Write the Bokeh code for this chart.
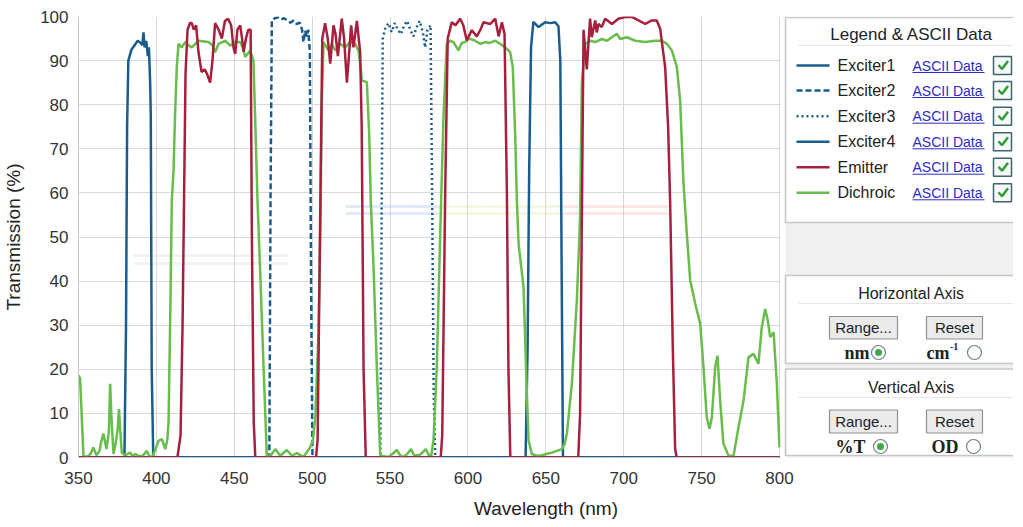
from bokeh.plotting import figure
from bokeh.models import Range1d, FixedTicker
from bokeh.embed import file_html
from bokeh.resources import INLINE
from bokeh.core.properties import value

# ---------------- data ----------------
x_ticks = [350, 400, 450, 500, 550, 600, 650, 700, 750, 800]
y_ticks = [0, 10, 20, 30, 40, 50, 60, 70, 80, 90, 100]

series_names = ["Exciter1", "Exciter2", "Exciter3", "Exciter4", "Emitter", "Dichroic"]

ex1_nm = [350, 379.5, 380.5, 381.2, 382, 384, 386, 388, 390, 391, 391.7, 392.5, 393.5, 394.5,
          395.2, 396, 396.4, 397, 398, 800]
ex1_T = [0, 0, 30, 75, 90, 92.5, 93.5, 94.5, 94, 93.5, 96.4, 93, 94.5, 91, 93, 85, 77.5, 20, 0, 0]

ex2_nm = [350, 472.5, 473.3, 474.1, 476, 478, 480, 482, 484, 486, 488, 490, 492, 493.5, 494.4,
          495.5, 496.5, 497.5, 498.5, 499.3, 500.2, 800]
ex2_T = [0, 0, 60, 99.1, 99.6, 99.8, 99.3, 99.6, 99.1, 98.6, 99.1, 98.3, 98.6, 97, 94.2, 96.8,
         95.5, 97, 92, 40, 0, 0]

ex3_nm = [350, 543.8, 544.5, 545.3, 547, 549, 551, 553, 555, 557, 559, 561, 563, 565, 567, 569,
          571, 572.5, 574, 576, 577, 578, 579, 800]
ex3_T = [0, 0, 50, 95, 97.5, 98.5, 96.5, 98.5, 97, 96, 98, 99, 97, 95.5, 97.5, 99, 96.5, 93,
         97, 98, 60, 15, 0, 0]

ex4_nm = [350, 637, 638.3, 639.3, 640.5, 642, 645.3, 649.6, 653, 656, 658.1, 659.3, 660.2, 661, 800]
ex4_T = [0, 0, 25, 65, 93, 98.8, 97.6, 98.7, 98.5, 98.7, 97.8, 90, 40, 0, 0]

em_nm = [350,
         413.5, 415.5, 416.8, 417.8, 418.7, 420, 421.5, 422.7, 424, 425.5, 427, 429, 431, 432.5,
         434.5, 436, 437.7, 440, 442, 444, 446, 448, 449.5, 450.6, 452, 453.8, 455, 456, 457.5,
         459, 460.5, 461.3, 462.5, 463.5,
         502.5, 503.5, 505, 506.5, 508.3, 510, 511.6, 513.7, 515, 516.5, 519, 520.5, 522.3, 524,
         525, 526.5, 528.7, 530.8, 531.8, 533, 534.4,
         582.5, 583.5, 585.4, 587, 589.6, 592, 595, 597, 599.2, 602.5, 605.7, 608, 610, 614.3,
         617.5, 619.7, 621.8, 623.5, 625, 626, 627.2,
         670.8, 672, 673, 674.2, 676.3, 678.4, 679.5, 681.7, 682.7, 683.8, 685.9, 688.1, 692.4,
         696.6, 700.9, 705.2, 709.5, 713.8, 718, 721.2, 723.4, 726.6, 728.5, 729.8, 731.5, 733,
         734, 800]
em_T = [0,
        0, 5, 30, 60, 87, 97, 98.5, 98.5, 97, 98, 92, 87.4, 88, 87,
        85, 90, 98.5, 97, 95, 99, 99.5, 98, 93, 91.5, 97, 98, 95, 92, 95,
        97, 97, 50, 8, 0,
        0, 4, 50, 95, 98.5, 95, 89.3, 98, 96, 91, 99.5, 95, 85, 93,
        98, 93, 99, 92, 75, 20, 0,
        0, 5, 60, 95, 98.7, 98, 99.5, 98, 94.6, 96.9, 95.5, 97, 98.7, 98.3,
        99.5, 95.5, 98.7, 96, 60, 20, 0,
        0, 10, 50, 97, 88, 99.5, 95.3, 99.1, 96.4, 98.3, 97.6, 99.5, 98.3,
        99.5, 99.9, 99.9, 99.1, 98.3, 99.1, 99.1, 97.2, 88.5, 75, 58, 25, 2,
        0, 0]

di_nm = [350, 351, 352, 353.2, 356, 358, 359.5, 361.5, 363.5, 364.5, 366, 368, 369.5, 370.3,
         371.3, 372.5, 374, 375, 376, 377, 377.8, 380, 381.5, 383, 385, 386.5, 388.5, 391, 393.8,
         395.5, 397, 399, 401.4, 403.5, 405.7, 407, 407.8, 408.8, 409.9, 411, 412, 413.1, 414.2,
         416.3, 418.5, 420.5, 422.7, 427, 433.4, 436, 437.7, 439.9, 444.2, 447.4, 450.6, 453.8,
         455.5, 457, 460.2, 462.3, 463.4, 464.9, 466.6, 468.8, 470.9, 473.5, 476.3, 479.5, 483.7,
         487, 490.2, 494.4, 498.7, 500.5, 502, 504, 505.2, 506.2, 507.3, 510.5, 512.6, 514.8, 518,
         521.2, 524.4, 527.6, 529.7, 531.2, 531.9, 535.1, 536.6, 537.6, 539.4, 541.5, 543.7, 546,
         549, 551.5, 554.3, 556.5, 558.6, 561, 563.5, 565.4, 568.6, 570.5, 572.9, 575, 576.5,
         577.9, 580, 582.2, 584.3, 586.4, 588.6, 590.7, 593.9, 596, 598.2, 601, 604.6, 608, 611,
         614, 617.5, 620.7, 623.9, 627.1, 628.8, 630.3, 631.4, 632.5, 635.7, 637.4, 638.9, 641,
         644, 647.4, 650.5, 653.8, 657, 660.3, 662, 663.5, 666.7, 669.9, 672, 673.1, 675.3, 678.5,
         681.7, 686, 689.2, 692.4, 695.6, 697.7, 702, 707.4, 713.8, 720.2, 724.5, 727.7, 730.9,
         734.1, 736.2, 738.4, 740.5, 742.7, 745.9, 749.1, 751.2, 753.3, 755.1, 756.6, 758.7,
         760.2, 761.9, 764, 767.3, 770.5, 773.7, 776.9, 780.1, 783.3, 786.5, 788.6, 790.8, 792.5,
         794, 796.2, 798.3, 800]
di_T = [18.6, 18, 10, 0.3, 0.2, 1, 2.3, 0.5, 1.5, 3.5, 5.4, 1.9, 6, 16.7,
        8, 0.8, 3.5, 6, 11, 5, 1.1, 0.5, 0.8, 1.1, 0.3, 0.8, 0.4, 0.3, 1.5,
        0.3, 0, 1.5, 3.8, 4.2, 1.9, 4, 8, 30, 58.3, 65, 78, 88.5, 93.8,
        93, 94.2, 93.5, 93, 94.5, 94.2, 93.5, 91.9, 93.8, 94.5, 93.4, 94.2, 94.2,
        93, 90.8, 92.3, 90, 77, 58.3, 42.4, 20.5, 0.3, 0.5, 1.9, 0.4, 1.7,
        0.4, 1, 0.1, 2.3, 4, 9.1, 28, 50.7, 81, 94.2, 92.3, 93.8, 92.3, 93.8,
        93, 94.2, 93.8, 92.3, 88, 85.5, 85.1, 73.4, 58.3, 43.2, 20.5, 0.4, 0.3,
        0.1, 0.8, 1.7, 0.5, 0.1, 0.8, 1.9, 0.5, 0.5, 1, 1.9, 0.5, 0.5,
        3.9, 20.5, 50.7, 77.2, 93.8, 94.5, 94.2, 92.3, 94, 94.2, 95, 94.5, 93.8, 94.2,
        94, 94.5, 93.8, 93, 91.9, 88.5, 73.4, 58.3, 48.5, 38.6, 19, 3.9, 0.8,
        0.4, 0.5, 0.8, 1.1, 1.5, 1.9, 3, 5.4, 16.7, 35.6, 54.5, 84.7, 93.8, 94.5,
        94.2, 94.9, 94.5, 95.3, 96.1, 94.9, 95.3, 94.5, 94.2, 94.5, 94.5, 93.8, 92.3,
        88.5, 81, 62, 50.7, 40.1, 34.9, 30.3, 20.5, 9.1, 6.5, 9.1, 20.5,
        23.1, 12.9, 3.1, 0.4, 0.4, 6.9, 12.9, 22.7, 23.5, 21.2, 29.5, 33.7, 31,
        27.3, 28.4, 16.7, 2.3]

BLUE = "#1b5c8e"
RED = "#a6203e"
GREEN = "#68bd4c"
FONT = "Liberation Sans"

# chart frame: 350..800 nm over 701 px; frame extended to the right to host the side panels
NM_PER_PX = 450 / 701
X_END = 350 + 935 * NM_PER_PX


def X(px):
    return 350 + (px - 80) * NM_PER_PX


def Y(py):
    return (457 - py) * 100 / 441


p = figure(frame_width=935, frame_height=441, x_range=Range1d(350, X_END),
           y_range=Range1d(0, 100), output_backend="svg", toolbar_location=None,
           min_border_left=72, min_border_right=0, min_border_top=16, min_border_bottom=56)
p.background_fill_color = "white"
p.border_fill_color = "white"
p.outline_line_color = None

p.xaxis.ticker = FixedTicker(ticks=x_ticks)
p.yaxis.ticker = FixedTicker(ticks=y_ticks)
p.xaxis.bounds = (350, 800)
p.axis.major_tick_line_color = None
p.axis.minor_tick_line_color = None
p.axis.axis_line_color = "#c8c8c8"
p.axis.major_label_text_font = FONT
p.axis.major_label_text_font_size = "17px"
p.axis.major_label_text_color = "#333333"
p.axis.axis_label_text_font = FONT
p.axis.axis_label_text_font_size = "19px"
p.axis.axis_label_text_font_style = "normal"
p.axis.axis_label_text_color = "#222222"
p.xaxis.major_label_standoff = 8
p.yaxis.major_label_standoff = 4
p.xaxis.axis_label = "Wavelength (nm)"
p.yaxis.axis_label = "Transmission (%)"
p.xaxis.axis_label_standoff = 11
p.yaxis.axis_label_standoff = 13
p.grid.grid_line_color = "#d9d9d9"
p.grid.grid_line_width = 1

# faint logo stripes (decoration)
stripes = [(347, 440, 206, "#9ab8e8"), (440, 560, 206, "#d8e8a0"), (560, 670, 206, "#f0b0b0"),
           (347, 440, 213, "#9ab8e8"), (440, 560, 213, "#d8e8a0"), (560, 670, 213, "#f0b0b0"),
           (135, 290, 255, "#d8d8d8"), (135, 290, 263, "#d8d8d8")]
for x0, x1, yy, c in stripes:
    p.segment(x0=[X(x0)], y0=[Y(yy)], x1=[X(x1)], y1=[Y(yy)], line_color=c, line_width=3,
              line_alpha=0.3)

# series
p.line(ex2_nm, ex2_T, line_color=BLUE, line_width=2.5, line_dash="6 3")
p.line(ex3_nm, ex3_T, line_color=BLUE, line_width=2.5, line_dash="2 3")
p.line(ex1_nm, ex1_T, line_color=BLUE, line_width=2.5)
p.line(ex4_nm, ex4_T, line_color=BLUE, line_width=2.5)
p.line(di_nm, di_T, line_color=GREEN, line_width=2.5)
p.line(em_nm, em_T, line_color=RED, line_width=2.5)

# ---------------- side panels ----------------
p.quad(left=[X(782)], right=[X(1016)], top=[Y(14)], bottom=[Y(460)], fill_color="white",
       line_alpha=0)
p.quad(left=[X(787)], right=[X(1016)], top=[Y(222)], bottom=[Y(460)], fill_color="#f0f0f0",
       line_alpha=0)
p.quad(left=[X(787)] * 3, right=[X(1030)] * 3, top=[Y(17), Y(275), Y(368.5)],
       bottom=[Y(222), Y(363), Y(455)], fill_color="white", line_color="#c6c6c6",
       line_width=1.6)
p.segment(x0=[X(800)] * 3, y0=[Y(45), Y(303), Y(397)], x1=[X(1015)] * 3,
          y1=[Y(45), Y(303), Y(397)], line_color="#e6e6e6", line_width=1)

leg_py = [65, 90, 115.7, 141.3, 166.7, 192.3]
leg_y = [Y(v) for v in leg_py]
leg_col = [BLUE, BLUE, BLUE, BLUE, RED, GREEN]
leg_dash = ["solid", "6 3", "2 3", "solid", "solid", "solid"]
for yy, c, d in zip(leg_y, leg_col, leg_dash):
    p.segment(x0=[X(798)], y0=[yy], x1=[X(831)], y1=[yy], line_color=c, line_width=2.5,
              line_dash=d)
p.segment(x0=[X(914)] * 6, y0=[Y(v + 7) for v in leg_py], x1=[X(986)] * 6,
          y1=[Y(v + 7) for v in leg_py], line_color="#2b2bc8", line_width=1)
p.quad(left=[X(995)] * 6, right=[X(1013)] * 6, top=[Y(v - 9) for v in leg_py],
       bottom=[Y(v + 9) for v in leg_py], fill_color="#f8f8f8", line_color="#3b6570",
       line_width=1.5)
p.multi_line(xs=[[X(1000), X(1003.5), X(1009.5)]] * 6,
             ys=[[Y(v - 0.5), Y(v + 3.5), Y(v - 4.5)] for v in leg_py],
             line_color="#2f9e3a", line_width=2.5)

# buttons
p.quad(left=[X(831), X(928), X(831), X(928)], right=[X(899), X(984), X(899), X(984)],
       top=[Y(316), Y(316), Y(409.5), Y(409.5)],
       bottom=[Y(338.5), Y(338.5), Y(432.5), Y(432.5)], fill_color="#ebebeb",
       line_color="#909090", line_width=1.2)

# radio buttons
p.scatter(x=[X(880), X(976), X(882), X(975)], y=[Y(352), Y(352), Y(446), Y(446)],
          marker="circle", size=14, fill_color="white", line_color="#6f7f8f", line_width=1.2)
p.scatter(x=[X(880), X(882)], y=[Y(352), Y(446)], marker="circle", size=7,
          fill_color="#3caa48", line_alpha=0)

# panel texts
p.text(x=[X(913)], y=[Y(33.5)], text=["Legend & ASCII Data"], text_font=value(FONT),
       text_font_size="17px", text_color="#222222", text_align="center",
       text_baseline="middle", level="annotation")
p.text(x=[X(913)] * 2, y=[Y(292.5), Y(386.5)], text=["Horizontal Axis", "Vertical Axis"],
       text_font=value(FONT), text_font_size="16px", text_color="#222222",
       text_align="center", text_baseline="middle", level="annotation")
p.text(x=[X(839)] * 6, y=leg_y, text=series_names, text_font=value(FONT),
       text_font_size="16px", text_color="#222222", text_align="left",
       text_baseline="middle", level="annotation")
p.text(x=[X(914)] * 6, y=leg_y, text=["ASCII Data"] * 6, text_font=value(FONT),
       text_font_size="14px", text_color="#2b2bc8", text_align="left",
       text_baseline="middle", level="annotation")
p.text(x=[X(865), X(956), X(865), X(956)], y=[Y(327), Y(327), Y(421), Y(421)],
       text=["Range...", "Reset", "Range...", "Reset"], text_font=value(FONT),
       text_font_size="15px", text_color="#222222", text_align="center",
       text_baseline="middle", level="annotation")
p.text(x=[X(871), X(867), X(960)], y=[Y(352), Y(446), Y(446)], text=["nm", "%T", "OD"],
       text_font=value("Liberation Serif"), text_font_style="bold", text_font_size="18px",
       text_color="#222222", text_align="right", text_baseline="middle", level="overlay")
p.text(x=[X(928)], y=[Y(352)], text=["cm"], text_font=value("Liberation Serif"),
       text_font_style="bold", text_font_size="18px", text_color="#222222",
       text_align="left", text_baseline="middle", level="overlay")
p.text(x=[X(951.5)], y=[Y(346)], text=["-1"], text_font=value("Liberation Serif"),
       text_font_style="bold", text_font_size="10px", text_color="#222222",
       text_align="left", text_baseline="middle", level="overlay")

open("out.html", "w").write(file_html(p, INLINE))
